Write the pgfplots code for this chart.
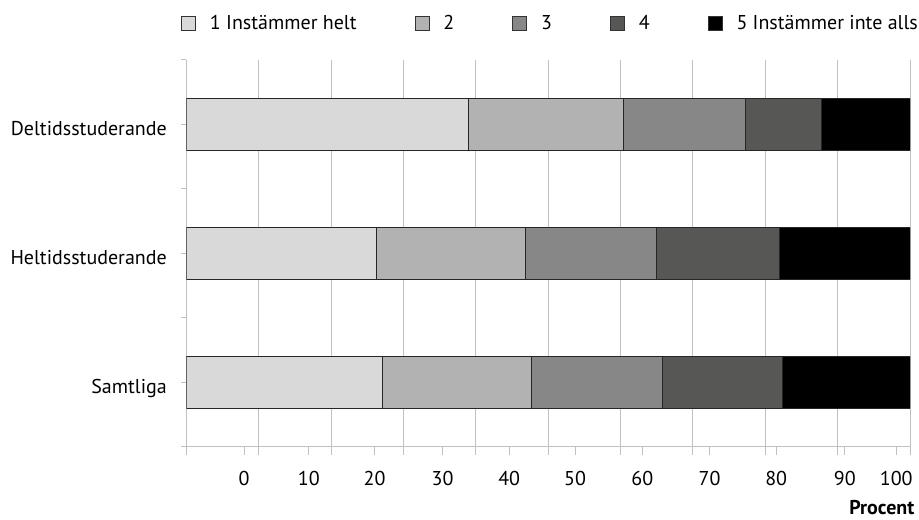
\documentclass[border=0pt]{standalone}
\usepackage{pgfplots}
\pgfplotsset{compat=1.18}
\usepackage{fontspec}
\setmainfont{PT Sans}
\definecolor{cA}{HTML}{D9D9D9}
\definecolor{cB}{HTML}{B2B2B2}
\definecolor{cC}{HTML}{878787}
\definecolor{cD}{HTML}{575755}
\definecolor{cE}{HTML}{000000}
\definecolor{gridc}{HTML}{C0C0C0}
\newcommand{\fs}{\fontsize{20bp}{24bp}\selectfont}

\begin{document}
\fs
\begin{tikzpicture}
\useasboundingbox (-186.5bp,-73.3bp) rectangle (732.5bp,446.7bp);
\begin{axis}[
    scale only axis,
    width=723.5bp, height=386.7bp,
    xbar stacked,
    bar width=52bp,
    xmin=0, xmax=100,
    ymin=-0.5, ymax=2.5,
    axis x line*=bottom,
    axis y line*=left,
    axis line style={-, draw=gridc, line width=1bp},
    tick align=outside,
    xtick={0,10,...,100},
    xticklabels={},
    xtick style={draw=gridc, line width=1bp, /pgfplots/major tick length=8bp},
    xmajorgrids,
    grid style={draw=gridc, line width=1bp},
    extra x ticks={7.95,16.9,26.0,35.4,44.6,53.7,63.0,72.3,81.5,91.0,98.1},
    extra x tick labels={0,10,20,30,40,50,60,70,80,90,100},
    extra x tick style={grid=none, major tick length=0pt,
        xticklabel style={anchor=base, inner sep=0pt, yshift=-39bp, font=\fs}},
    ytick={-0.5,0.5,1.5,2.5},
    yticklabels={},
    ytick style={draw=gridc, line width=1bp, /pgfplots/major tick length=5bp},
    extra y ticks={0,1,2},
    extra y tick labels={Samtliga,Heltidsstuderande,Deltidsstuderande},
    extra y tick style={grid=none, major tick length=0pt,
        yticklabel style={anchor=base east, inner sep=0pt, xshift=-19.5bp, yshift=-10.8bp, font=\fs}},
    xlabel={Procent},
    xlabel style={at={(rel axis cs:1,0)}, anchor=base east, inner sep=0pt,
        xshift=4.5bp, yshift=-67.5bp, font=\fs\bfseries},
    legend columns=5,
    legend style={at={(rel axis cs:0,1)}, anchor=west, xshift=-5.5bp, yshift=36.2bp,
        draw=none, fill=none, inner sep=0pt, font=\fs,
        nodes={inner sep=0pt},
        /tikz/every odd column/.append style={column sep=14bp},
        /tikz/every even column/.append style={column sep=58bp}},
    legend image code/.code={\draw[#1, draw=black!80, line width=0.8bp] (0bp,-7bp) rectangle (14bp,7bp);},
    every axis plot/.append style={draw=black!85, line width=0.8bp},
]
\addplot[fill=cA] coordinates {(27.1,0) (26.3,1) (39.0,2)};
\addplot[fill=cB] coordinates {(20.6,0) (20.5,1) (21.4,2)};
\addplot[fill=cC] coordinates {(18.1,0) (18.2,1) (16.9,2)};
\addplot[fill=cD] coordinates {(16.5,0) (16.9,1) (10.4,2)};
\addplot[fill=cE] coordinates {(17.7,0) (18.1,1) (12.3,2)};
\legend{1 Instämmer helt,2,3,4,5 Instämmer inte alls}
\end{axis}
\end{tikzpicture}
\end{document}
